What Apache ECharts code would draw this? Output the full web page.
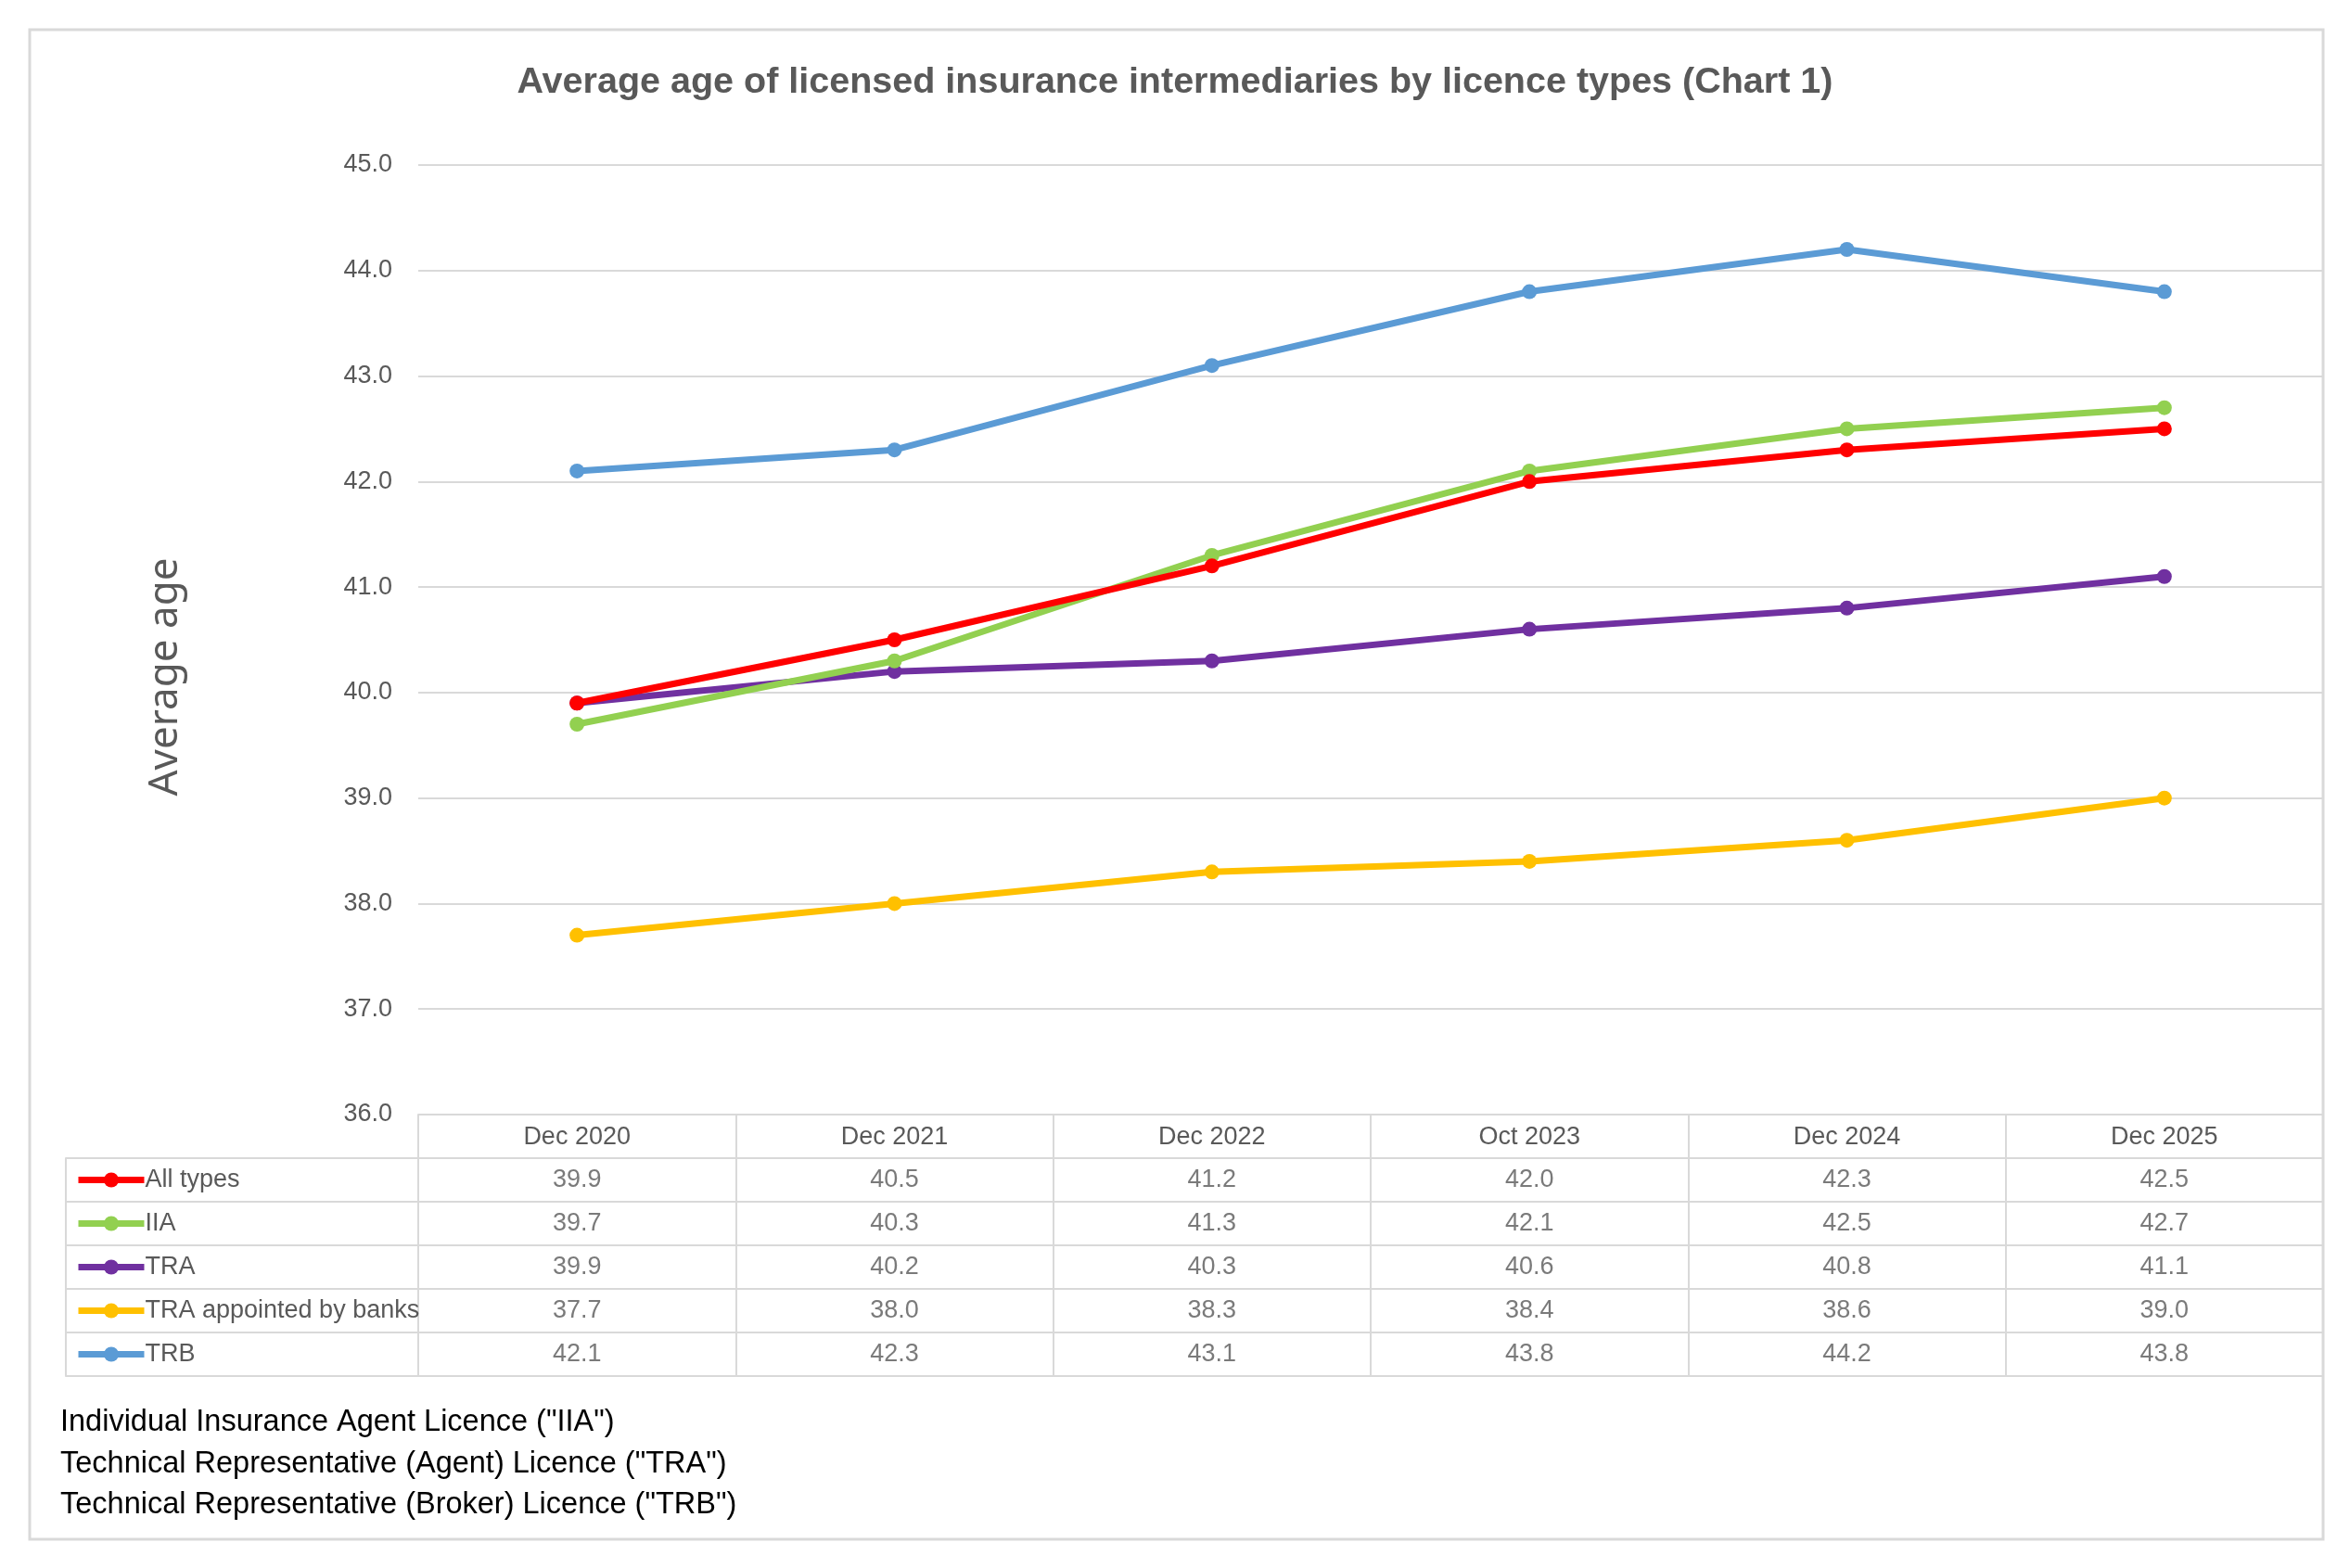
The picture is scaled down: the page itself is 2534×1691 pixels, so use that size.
<!DOCTYPE html>
<html><head><meta charset="utf-8">
<script src="https://cdn.jsdelivr.net/npm/echarts@6/dist/echarts.min.js"></script>
<style>html,body{margin:0;padding:0;background:#fff;}#c{width:2534px;height:1691px;}</style>
</head><body><div id="c"></div>
<script>
const categories = ['Dec 2020','Dec 2021','Dec 2022','Oct 2023','Dec 2024','Dec 2025'];
const seriesNames = ['All types','IIA','TRA','TRA appointed by banks','TRB'];
const allTypes = [39.9, 40.5, 41.2, 42.0, 42.3, 42.5];
const iia = [39.7, 40.3, 41.3, 42.1, 42.5, 42.7];
const tra = [39.9, 40.2, 40.3, 40.6, 40.8, 41.1];
const traBanks = [37.7, 38.0, 38.3, 38.4, 38.6, 39.0];
const trb = [42.1, 42.3, 43.1, 43.8, 44.2, 43.8];
const colors = ['#ff0000','#92d050','#7030a0','#ffc000','#5b9bd5'];
const yTicks = {min: 36, max: 45, interval: 1};
const footnotes = ['Individual Insurance Agent Licence ("IIA")','Technical Representative (Agent) Licence ("TRA")','Technical Representative (Broker) Licence ("TRB")'];
const titleText = 'Average age of licensed insurance intermediaries by licence types (Chart 1)';

const allSeries = [allTypes, iia, tra, traBanks, trb];
const NARROW = "'Liberation Sans Narrow', 'Arial Narrow', 'Liberation Sans', sans-serif";
const GRAY = '#595959';
const LINEC = '#d9d9d9';

const tableData = [];
allSeries.forEach((arr, j) => arr.forEach((v, i) => tableData.push([i, j, v])));

const chart = echarts.init(document.getElementById('c'));
chart.setOption({
  animation: false,
  backgroundColor: '#fff',
  title: {text: titleText, left: 'center', top: 64,
    textStyle: {fontFamily: NARROW, fontWeight: 'bold', fontSize: 39.5, color: GRAY}},
  legend: {data: seriesNames, orient: 'vertical', left: 76, top: 1244, itemWidth: 71, itemHeight: 20,
    itemGap: 0, selectedMode: false,
    lineStyle: {width: 7},
    textStyle: {fontFamily: NARROW, fontSize: 27, color: GRAY, lineHeight: 47, padding: [0,0,0,-4]}},
  grid: [
    {left: 451, right: 29, top: 178, bottom: 489},
    {left: 451, right: 29, top: 1249, height: 235}
  ],
  xAxis: [
    {type: 'category', gridIndex: 0, data: categories, boundaryGap: true,
      axisLine: {lineStyle: {color: LINEC, width: 2}},
      axisTick: {show: true, length: 47, alignWithLabel: false, lineStyle: {color: LINEC, width: 2}},
      axisLabel: {fontFamily: NARROW, fontSize: 27, color: GRAY, margin: 11}},
    {type: 'category', gridIndex: 1, data: categories, boundaryGap: true,
      axisLine: {show: false}, axisTick: {show: false}, axisLabel: {show: false},
      splitLine: {show: true, lineStyle: {color: LINEC, width: 2}}}
  ],
  yAxis: [
    {type: 'value', gridIndex: 0, min: yTicks.min, max: yTicks.max, interval: yTicks.interval,
      name: 'Average age', nameLocation: 'middle', nameGap: 251, nameRotate: 90,
      nameTextStyle: {fontFamily: "'Noto Sans', 'DejaVu Sans', sans-serif", fontSize: 44, color: GRAY, padding: [0, 80, 0, 0]},
      axisLine: {show: false}, axisTick: {show: false},
      axisLabel: {fontFamily: NARROW, fontSize: 27, color: GRAY, margin: 28, formatter: v => v.toFixed(1)},
      splitLine: {lineStyle: {color: LINEC, width: 2}}},
    {type: 'category', gridIndex: 1, data: seriesNames, inverse: true, boundaryGap: true,
      axisLine: {show: true, lineStyle: {color: LINEC, width: 2}},
      axisTick: {show: true, length: 380, alignWithLabel: false, lineStyle: {color: LINEC, width: 2}},
      axisLabel: {show: false},
      splitLine: {show: true, lineStyle: {color: LINEC, width: 2}}},
    {type: 'category', gridIndex: 1, data: seriesNames, inverse: true, position: 'left', offset: 380,
      axisLine: {show: true, lineStyle: {color: LINEC, width: 2}},
      axisTick: {show: false}, axisLabel: {show: false}, splitLine: {show: false}}
  ],
  series: seriesNames.map((n, k) => ({
    name: n, type: 'line', xAxisIndex: 0, yAxisIndex: 0, data: allSeries[k],
    color: colors[k], symbol: 'circle', symbolSize: 16, showSymbol: true,
    lineStyle: {width: 7, color: colors[k]}, itemStyle: {color: colors[k]}, z: 10 - k
  })).concat([{
    type: 'scatter', xAxisIndex: 1, yAxisIndex: 1, data: tableData, symbolSize: 1,
    itemStyle: {color: 'rgba(0,0,0,0)'}, silent: true,
    label: {show: true, position: 'inside', formatter: p => p.value[2].toFixed(1),
      fontFamily: NARROW, fontSize: 27, color: GRAY}
  }]),
  graphic: [
    {type: 'rect', shape: {x: 32, y: 32, width: 2473, height: 1628}, style: {fill: 'none', stroke: LINEC, lineWidth: 3}, silent: true},
  ].concat(footnotes.map((t, i) => ({
    type: 'text', left: 65, top: 1518 + i * 44.5,
    style: {text: t, fontFamily: NARROW, fontSize: 32.5, fill: '#000'}
  })))
});
</script></body></html>
